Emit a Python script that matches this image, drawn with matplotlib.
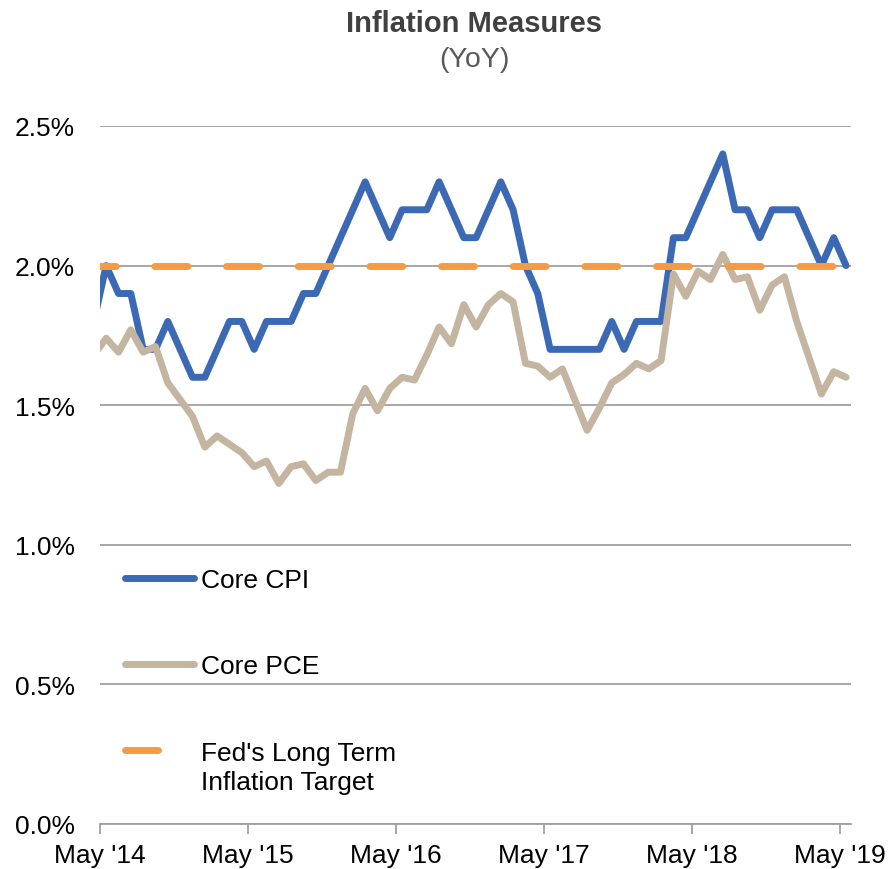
import numpy as np
import matplotlib
matplotlib.use('Agg')
import matplotlib.pyplot as plt
from matplotlib.lines import Line2D

plt.rcParams['font.family'] = ['Liberation Sans', 'DejaVu Sans']

# monthly index, 0 = May 2014 (first value is Apr 2014, last is May 2019)
months = np.arange(-1, 61)

core_cpi = [1.8, 2.0, 1.9, 1.9, 1.7, 1.7, 1.8, 1.7, 1.6, 1.6, 1.7, 1.8,
            1.8, 1.7, 1.8, 1.8, 1.8, 1.9, 1.9, 2.0, 2.1, 2.2, 2.3, 2.2,
            2.1, 2.2, 2.2, 2.2, 2.3, 2.2, 2.1, 2.1, 2.2, 2.3, 2.2, 2.0,
            1.9, 1.7, 1.7, 1.7, 1.7, 1.7, 1.8, 1.7, 1.8, 1.8, 1.8, 2.1,
            2.1, 2.2, 2.3, 2.4, 2.2, 2.2, 2.1, 2.2, 2.2, 2.2, 2.1, 2.0,
            2.1, 2.0]

core_pce = [1.68, 1.74, 1.69, 1.77, 1.69, 1.71, 1.58, 1.52, 1.46, 1.35, 1.39, 1.36,
            1.33, 1.28, 1.30, 1.22, 1.28, 1.29, 1.23, 1.26, 1.26, 1.47, 1.56, 1.48,
            1.56, 1.60, 1.59, 1.68, 1.78, 1.72, 1.86, 1.78, 1.86, 1.90, 1.87, 1.65,
            1.64, 1.60, 1.63, 1.52, 1.41, 1.49, 1.58, 1.61, 1.65, 1.63, 1.66, 1.97,
            1.89, 1.98, 1.95, 2.04, 1.95, 1.96, 1.84, 1.93, 1.96, 1.80, 1.67, 1.54,
            1.62, 1.60]

fed_target = [2.0] * len(months)

tick_pos = [-0.5, 11.5, 23.5, 35.5, 47.5, 59.5]
tick_labels = ["May '14", "May '15", "May '16", "May '17", "May '18", "May '19"]
y_ticks = [0.0, 0.5, 1.0, 1.5, 2.0, 2.5]

blue = '#3C69B3'
beige = '#C4B5A0'
orange = '#F59B45'
gridc = '#A0A0A0'
target_ls = (1.63, (4.75, 5.57))

fig = plt.figure(figsize=(8.91, 8.70), dpi=100)
ax = fig.add_axes([100/891, 45/870, 751/891, 698/870])

ax.plot(months, core_cpi, color=blue, lw=5, solid_joinstyle='round',
        solid_capstyle='round', zorder=3)
ax.plot(months, core_pce, color=beige, lw=5, solid_joinstyle='round',
        solid_capstyle='round', zorder=4)
ax.plot(months, fed_target, color=orange, lw=5, ls=target_ls,
        dash_capstyle='round', zorder=5)

ax.set_xlim(-0.5, 60.4)
ax.set_ylim(0, 2.5)
ax.set_yticks(y_ticks)
ax.set_yticklabels([f'{v:.1f}%' for v in y_ticks])
ax.set_xticks(tick_pos)
ax.set_xticklabels(tick_labels)
ax.yaxis.grid(True, color=gridc, lw=1.3)
ax.set_axisbelow(True)
ax.tick_params(axis='y', length=0, pad=18, labelsize=19)
ax.tick_params(axis='x', length=7, color=gridc, width=1.3, pad=7, labelsize=19)
for s in ['top', 'right', 'left']:
    ax.spines[s].set_visible(False)
ax.spines['bottom'].set_color(gridc)
ax.spines['bottom'].set_linewidth(1.3)

handles = [Line2D([], [], color=blue, lw=5, solid_capstyle='round'),
           Line2D([], [], color=beige, lw=5, solid_capstyle='round'),
           Line2D([], [], color=orange, lw=5, ls=(0, (4.75, 30)), dash_capstyle='round')]
leg = ax.legend(handles, ['Core CPI', 'Core PCE', "Fed's Long Term"],
                loc='upper left', bbox_to_anchor=(0.033, 0.3668), frameon=False,
                fontsize=19, handlelength=2.64, handletextpad=0.26,
                labelspacing=2.36, borderaxespad=0, borderpad=0)
leg.set_zorder(6)
ax.annotate('Inflation Target', xy=(0, 0.5), xycoords=leg.get_texts()[2],
            xytext=(0, -20.9), textcoords='offset points', va='center', ha='left',
            fontsize=19, zorder=7)

fig.text(474/891, 1 - 24/870, 'Inflation Measures', ha='center', va='center',
         fontsize=21, fontweight='bold', color='#404040')
fig.text(474/891, 1 - 60/870, '(YoY)', ha='center', va='center',
         fontsize=20.5, color='#595959')

fig.savefig('out.png', dpi=100)
